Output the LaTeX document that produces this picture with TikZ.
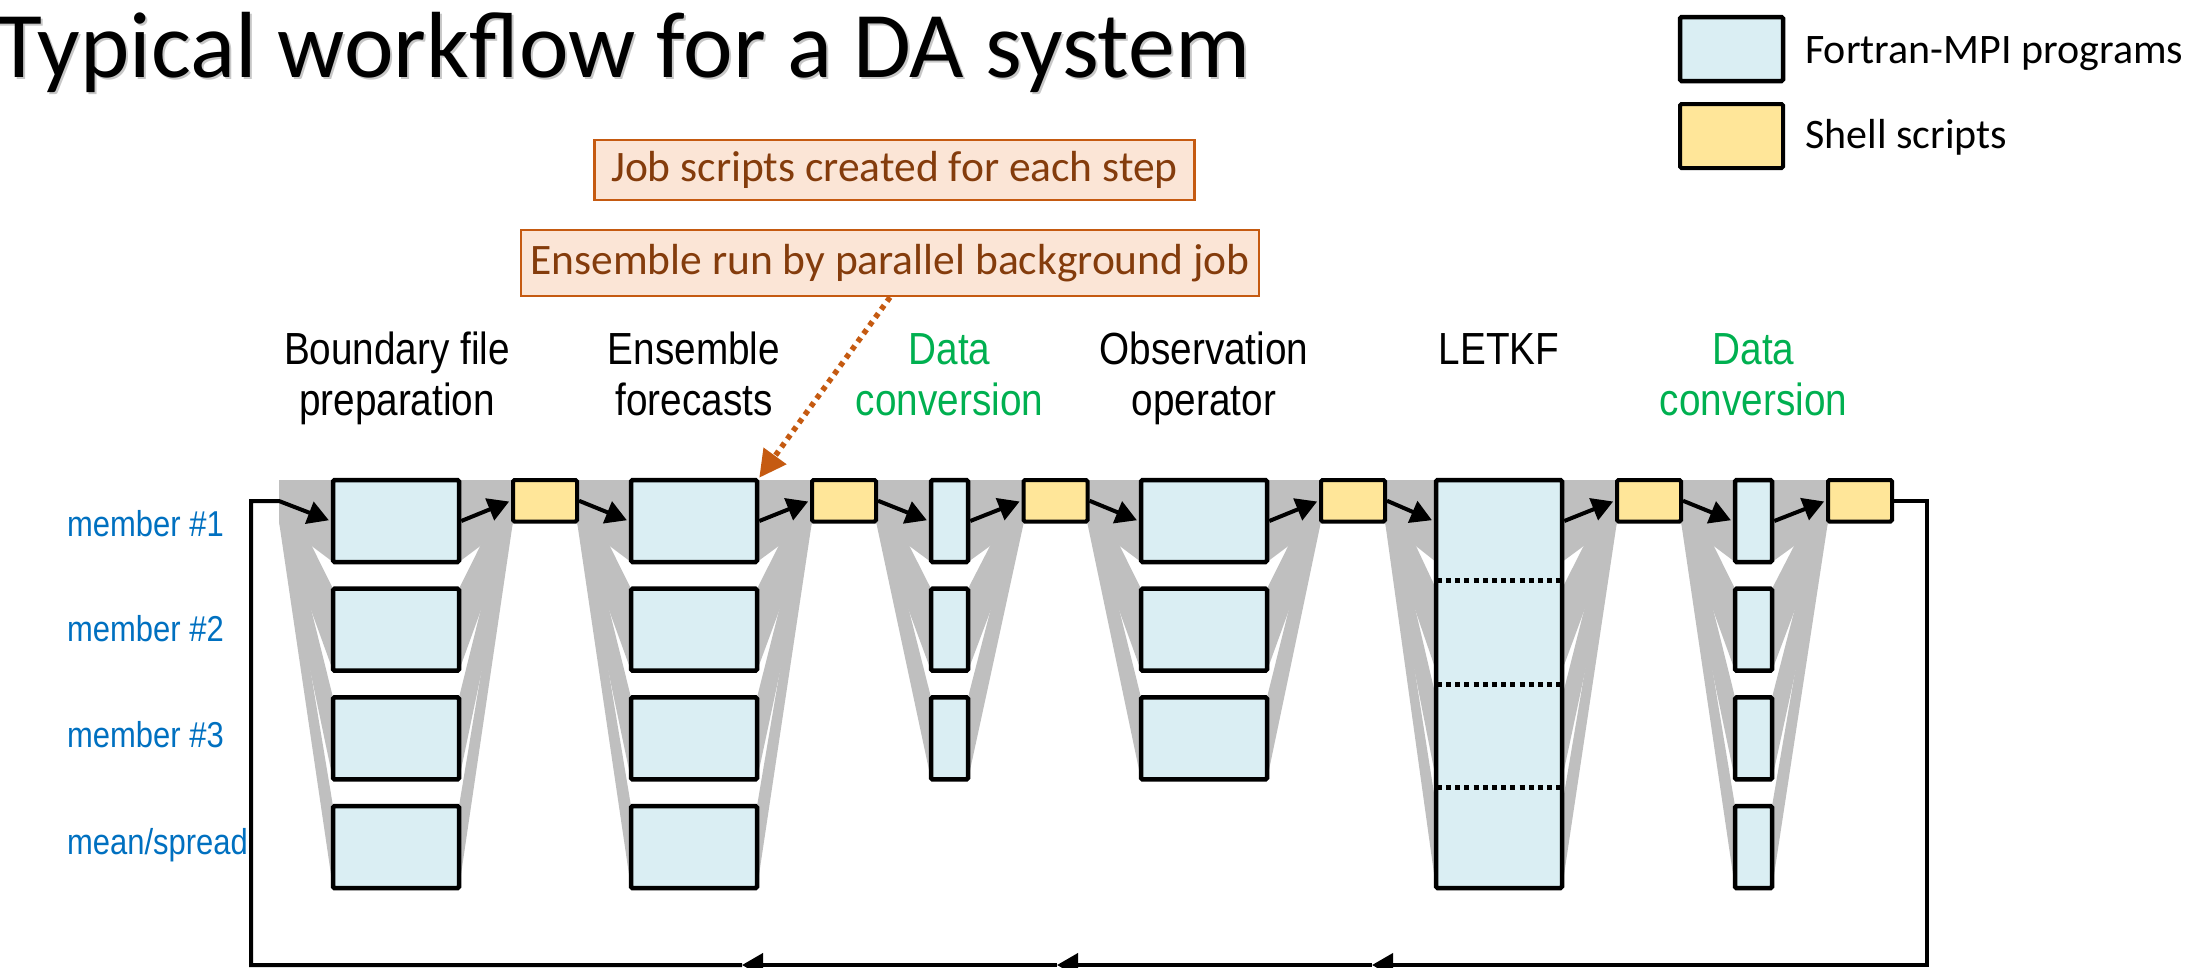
\documentclass[tikz,border=0pt]{standalone}
\usepackage{fontspec}
\setmainfont{Carlito}
\newfontfamily\narrowsans[FakeStretch=0.86]{Liberation Sans}
\usetikzlibrary{arrows.meta,calc}

\definecolor{progfill}{HTML}{DAEEF3}
\definecolor{shellfill}{HTML}{FFE699}
\definecolor{funnelgray}{HTML}{BFBFBF}
\definecolor{calloutfill}{HTML}{FBE5D6}
\definecolor{calloutedge}{HTML}{C55A11}
\definecolor{callouttext}{HTML}{843C0C}
\definecolor{stepgreen}{HTML}{00B050}
\definecolor{memberblue}{HTML}{0070C0}

% gray fan from the shared band down to every member box of one step
% #1 left source x, #2 box left x, #3 box right x, #4 right source x, #5 rows
\newcommand\memberfans[5]{%
  \foreach \i in {1,...,#5}{%
    \pgfmathsetmacro\yt{480+108.7*(\i-1)}%
    \pgfmathsetmacro\yb{\yt+82}%
    \fill[funnel] (#1,480) -- (#2,\yt) -- (#2,\yb) -- (#1,521.5) -- cycle;
    \fill[funnel] (#4,480) -- (#3,\yt) -- (#3,\yb) -- (#4,521.5) -- cycle;
  }}

\begin{document}
\begin{tikzpicture}[x=1pt,y=-1pt,
  prog/.style={draw=black, line width=4.5pt, fill=progfill, inner sep=0pt, rounded corners=1.5pt},
  shell/.style={draw=black, line width=4pt, fill=shellfill, inner sep=0pt, rounded corners=1.5pt},
  wide/.style={minimum width=126pt, minimum height=82pt},
  narrow/.style={minimum width=37pt, minimum height=82pt},
  yel/.style={shell, minimum width=64pt, minimum height=41.5pt},
  funnel/.style={fill=funnelgray},
  flow/.style={line width=4pt, shorten >=2pt, -{Triangle[length=21pt,width=23pt]}},
  heading/.style={font=\narrowsans\fontsize{45}{54}\selectfont, anchor=base, inner sep=0pt},
  member/.style={font=\narrowsans\fontsize{36}{43}\selectfont, text=memberblue, anchor=base west, inner sep=0pt},
  callout/.style={draw=calloutedge, line width=2.5pt, fill=calloutfill, text=callouttext,
    font=\fontsize{43.5}{50}\selectfont, inner sep=0pt},
  calloutarrow/.style={draw=calloutedge, line width=5.5pt, dash pattern=on 5pt off 5pt,
    -{Triangle[length=27pt,width=27pt,fill=calloutedge]}},
  split/.style={line width=5pt, dash pattern=on 5pt off 4.2pt},
  legendtext/.style={font=\fontsize{42}{50}\selectfont, anchor=base west, inner sep=0pt}
]
\useasboundingbox (0,0) rectangle (2197,967);
\clip (0,0) rectangle (2197,967);

% title with its soft shadow
\node[anchor=base west, inner sep=0pt, font=\fontsize{94}{112}\selectfont, text=black!22] (titleshadow) at (-2,79.5) {Typical workflow for a DA system};
\node[anchor=base west, inner sep=0pt, font=\fontsize{94}{112}\selectfont] (title) at (-4,77) {Typical workflow for a DA system};

% legend
\node[prog, minimum width=103pt, minimum height=64pt] (legProg) at (1731.5,49) {};
\node[shell, minimum width=103pt, minimum height=64pt] (legShell) at (1731.5,136) {};
\node[legendtext] (legProgTxt) at (1805,63) {Fortran-MPI programs};
\node[legendtext] (legShellTxt) at (1805,148) {Shell scripts};

% callouts
\node[callout, minimum width=600pt, minimum height=60pt] (callA) at (894.5,170) {Job scripts created for each step};
\node[callout, minimum width=738pt, minimum height=66pt] (callB) at (890,263) {Ensemble run by parallel background job};

% step headings
\node[heading] (hB1) at (397,364) {Boundary file};
\node[heading] (hB2) at (397,415) {preparation};
\node[heading] (hE1) at (694,364) {Ensemble};
\node[heading] (hE2) at (694,415) {forecasts};
\node[heading, text=stepgreen] (hD1) at (949.5,364) {Data};
\node[heading, text=stepgreen] (hD2) at (949.5,415) {conversion};
\node[heading] (hO1) at (1204,364) {Observation};
\node[heading] (hO2) at (1204,415) {operator};
\node[heading] (hL1) at (1499,364) {LETKF};
\node[heading, text=stepgreen] (hF1) at (1753.5,364) {Data};
\node[heading, text=stepgreen] (hF2) at (1753.5,415) {conversion};

% member labels
\node[member] (m1) at (67,536) {member \#1};
\node[member] (m2) at (67,641) {member \#2};
\node[member] (m3) at (67,747) {member \#3};
\node[member] (m4) at (67,854) {mean/spread};

% gray data fans
\memberfans{279}{333}{459}{513}{4}
\memberfans{577}{631}{757}{812}{4}
\memberfans{876}{931}{968}{1024}{3}
\memberfans{1087}{1141}{1267}{1321}{3}
\memberfans{1385}{1436}{1562}{1617}{4}
\memberfans{1681}{1735}{1772}{1828}{4}

% Fortran-MPI program boxes
\foreach \r in {1,...,4}{
  \node[prog, wide] (C1r\r) at (396,{521+108.7*(\r-1)}) {};
  \node[prog, wide] (C2r\r) at (694,{521+108.7*(\r-1)}) {};
  \node[prog, narrow] (C6r\r) at (1753.5,{521+108.7*(\r-1)}) {};
}
\foreach \r in {1,...,3}{
  \node[prog, narrow] (C3r\r) at (949.5,{521+108.7*(\r-1)}) {};
  \node[prog, wide] (C4r\r) at (1204,{521+108.7*(\r-1)}) {};
}
\node[prog, minimum width=126pt, minimum height=408pt] (C5) at (1499,684) {};
\foreach \f in {0.25,0.5,0.75}
  \draw[split] ($(C5.north west)!\f!(C5.south west)+(3,0)$) -- ($(C5.north east)!\f!(C5.south east)+(-4,0)$);

% shell script boxes
\node[yel] (Y1) at (545,500.75) {};
\node[yel] (Y2) at (844,500.75) {};
\node[yel] (Y3) at (1055.5,500.75) {};
\node[yel] (Y4) at (1353,500.75) {};
\node[yel] (Y5) at (1649,500.75) {};
\node[yel] (Y6) at (1860,500.75) {};

% workflow chain
\draw[flow] (C1r1.east) -- (Y1.west);
\draw[flow] (Y1.east) -- (C2r1.west);
\draw[flow] (C2r1.east) -- (Y2.west);
\draw[flow] (Y2.east) -- (C3r1.west);
\draw[flow] (C3r1.east) -- (Y3.west);
\draw[flow] (Y3.east) -- (C4r1.west);
\draw[flow] (C4r1.east) -- (Y4.west);
\draw[flow] (Y4.east) -- (C5.west |- C4r1.east);
\draw[flow] (C5.east |- C4r1.east) -- (Y5.west);
\draw[flow] (Y5.east) -- (C6r1.west);
\draw[flow] (C6r1.east) -- (Y6.west);

% cycle back to the next boundary preparation
\coordinate (loopNE) at (1927,500.75);
\coordinate (loopSE) at (1927,965);
\coordinate (ret1) at (1372,965);
\coordinate (ret2) at (1057,965);
\coordinate (ret3) at (742,965);
\coordinate (loopSW) at (251,965);
\coordinate (loopNW) at (251,501);
\coordinate (loopIn) at (279,501);
\draw[flow, shorten >=0pt] (Y6.east) -- (loopNE) -- (loopSE) -- (ret1);
\draw[flow, shorten >=0pt] (ret1) -- (ret2);
\draw[flow, shorten >=0pt] (ret2) -- (ret3);
\draw[flow] (ret3) -- (loopSW) -- (loopNW) -- (loopIn) -- (C1r1.west);

% callout pointer
\draw[calloutarrow] (callB.south) -- (C2r1.north east);
\end{tikzpicture}
\end{document}
